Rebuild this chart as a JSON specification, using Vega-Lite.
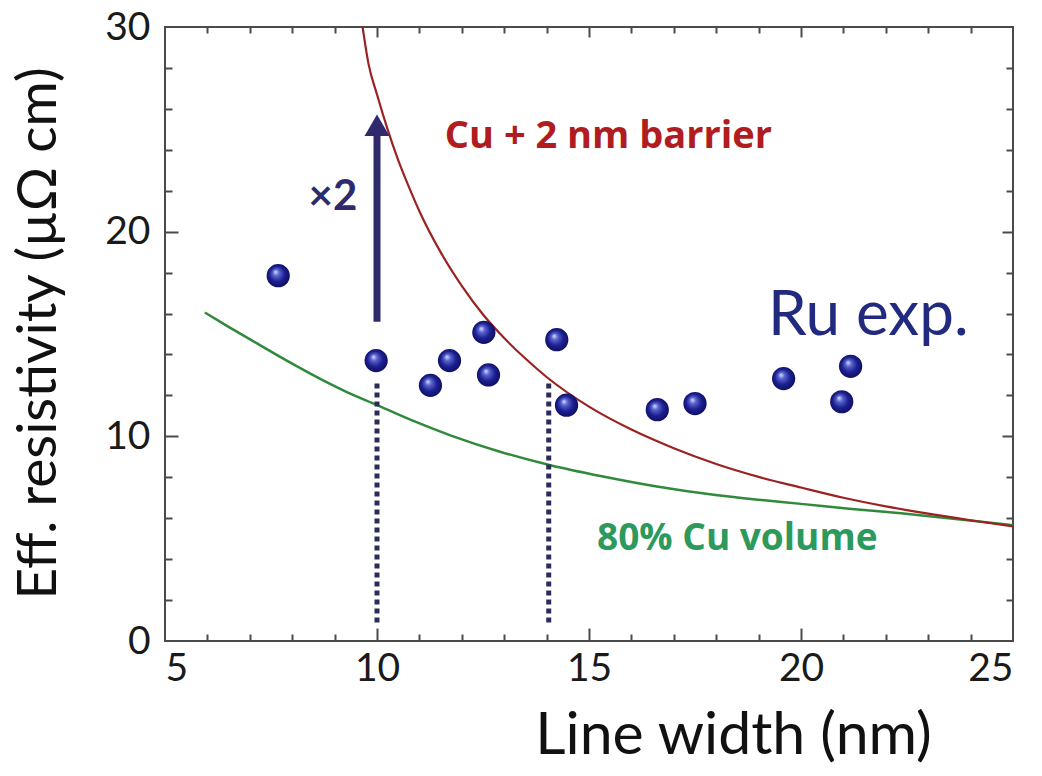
{
  "$schema": "https://vega.github.io/schema/vega-lite/v6.json",
  "width": 848,
  "height": 614,
  "autosize": {"type": "none"},
  "padding": {"left": 165, "top": 27, "right": 29, "bottom": 135},
  "background": "white",
  "config": {
    "view": {"stroke": "#4a4a4a", "strokeWidth": 2},
    "font": "Lato"
  },
  "datasets": {
    "pts": [
      {"w": 7.67, "rho": 17.85}, {"w": 9.98, "rho": 13.7}, {"w": 11.26, "rho": 12.49},
      {"w": 11.71, "rho": 13.7}, {"w": 12.52, "rho": 15.08}, {"w": 12.63, "rho": 13.0},
      {"w": 14.24, "rho": 14.72}, {"w": 14.47, "rho": 11.52}, {"w": 16.61, "rho": 11.3},
      {"w": 17.5, "rho": 11.6}, {"w": 19.59, "rho": 12.82}, {"w": 20.96, "rho": 11.69},
      {"w": 21.17, "rho": 13.42}
    ],
    "red": [
      {"w": 9.66, "rho": 30}, {"w": 9.8, "rho": 28.2}, {"w": 10.0, "rho": 26.7},
      {"w": 10.25, "rho": 25.0}, {"w": 10.5, "rho": 23.5}, {"w": 10.75, "rho": 22.2},
      {"w": 11.0, "rho": 21.0}, {"w": 11.5, "rho": 19.0}, {"w": 12.0, "rho": 17.35},
      {"w": 12.5, "rho": 15.95}, {"w": 13.0, "rho": 14.8}, {"w": 13.5, "rho": 13.8},
      {"w": 14.0, "rho": 12.9}, {"w": 15.0, "rho": 11.45}, {"w": 16.0, "rho": 10.33},
      {"w": 17.0, "rho": 9.42}, {"w": 18.0, "rho": 8.65}, {"w": 19.0, "rho": 8.02},
      {"w": 20.0, "rho": 7.5}, {"w": 21.0, "rho": 7.0}, {"w": 22.0, "rho": 6.58},
      {"w": 23.0, "rho": 6.22}, {"w": 24.0, "rho": 5.9}, {"w": 25.0, "rho": 5.6}
    ],
    "green": [
      {"w": 5.94, "rho": 16.05}, {"w": 6.5, "rho": 15.35}, {"w": 7.17, "rho": 14.54},
      {"w": 8.0, "rho": 13.55}, {"w": 8.73, "rho": 12.73}, {"w": 9.3, "rho": 12.15},
      {"w": 9.91, "rho": 11.61}, {"w": 10.8, "rho": 10.8}, {"w": 11.73, "rho": 10.05},
      {"w": 12.9, "rho": 9.25}, {"w": 14.09, "rho": 8.59}, {"w": 15.3, "rho": 8.05},
      {"w": 16.6, "rho": 7.55}, {"w": 18.03, "rho": 7.12}, {"w": 19.0, "rho": 6.9},
      {"w": 20.0, "rho": 6.7}, {"w": 21.2, "rho": 6.45}, {"w": 22.36, "rho": 6.24},
      {"w": 23.7, "rho": 5.95}, {"w": 25.0, "rho": 5.66}
    ],
    "dots": [
      {"w": 10.0, "lo": 0.9, "hi": 12.6},
      {"w": 14.05, "lo": 0.9, "hi": 12.6}
    ],
    "arrow": [{"w": 10.0, "lo": 15.6, "hi": 24.9, "tip": 25.2}]
  },
  "resolve": {"axis": {"x": "independent", "y": "independent"}},
  "layer": [
    {
      "data": {"name": "green"},
      "mark": {"type": "line", "color": "#2f8a3c", "strokeWidth": 2.5, "interpolate": "monotone"},
      "encoding": {
        "x": {"field": "w", "type": "quantitative", "scale": {"domain": [5, 25], "nice": false, "zero": false},
          "axis": {"orient": "bottom", "values": [5, 10, 15, 20, 25], "ticks": false, "domain": false, "grid": false,
            "labelFontSize": 39, "labelColor": "#1a1a1a", "labelPadding": 8, "labelFont": "Lato",
            "title": "Line width (nm)", "titleFontSize": 59, "titleFont": "Lato", "titleFontWeight": "normal",
            "titleColor": "#111111", "titleX": 568, "titleY": 112, "titleBaseline": "alphabetic", "titleAlign": "center"}},
        "y": {"field": "rho", "type": "quantitative", "scale": {"domain": [0, 30], "nice": false, "zero": false},
          "axis": {"orient": "left", "values": [0, 10, 20, 30], "ticks": false, "domain": false, "grid": false,
            "labelFontSize": 39, "labelColor": "#1a1a1a", "labelPadding": 15, "labelFont": "Lato",
            "title": "Eff. resistivity (µΩ cm)", "titleFontSize": 55, "titleFont": "Lato", "titleFontWeight": "normal",
            "titleColor": "#111111", "titleX": -127, "titleY": 306, "titleBaseline": "middle", "titleAlign": "center", "titleAngle": -90}}
      }
    },
    {
      "data": {"name": "red"},
      "mark": {"type": "line", "color": "#9c2222", "strokeWidth": 2.2, "interpolate": "monotone"},
      "encoding": {
        "x": {"field": "w", "type": "quantitative", "scale": {"domain": [5, 25], "nice": false, "zero": false},
          "axis": {"orient": "bottom", "values": [10, 15, 20], "labels": false, "domain": false, "grid": false, "title": null,
            "tickSize": -13, "tickColor": "#4a4a4a", "tickWidth": 2}},
        "y": {"field": "rho", "type": "quantitative", "scale": {"domain": [0, 30], "nice": false, "zero": false},
          "axis": {"orient": "left", "values": [10, 20], "labels": false, "domain": false, "grid": false, "title": null,
            "tickSize": -13, "tickColor": "#4a4a4a", "tickWidth": 2}}
      }
    },
    {
      "data": {"name": "dots"},
      "mark": {"type": "rule", "color": "#2c2c5c", "strokeWidth": 5, "strokeDash": [5, 4]},
      "encoding": {
        "x": {"field": "w", "type": "quantitative", "scale": {"domain": [5, 25], "nice": false, "zero": false},
          "axis": {"orient": "bottom", "values": [6, 7, 8, 9, 11, 12, 13, 14, 16, 17, 18, 19, 21, 22, 23, 24], "labels": false, "domain": false, "grid": false, "title": null,
            "tickSize": -7, "tickColor": "#4a4a4a", "tickWidth": 2}},
        "y": {"field": "lo", "type": "quantitative", "scale": {"domain": [0, 30], "nice": false, "zero": false},
          "axis": {"orient": "left", "values": [2, 4, 6, 8, 12, 14, 16, 18, 22, 24, 26, 28], "labels": false, "domain": false, "grid": false, "title": null,
            "tickSize": -7, "tickColor": "#4a4a4a", "tickWidth": 2}},
        "y2": {"field": "hi"}
      }
    },
    {
      "data": {"name": "arrow"},
      "mark": {"type": "rule", "color": "#2e2a6c", "strokeWidth": 7},
      "encoding": {
        "x": {"field": "w", "type": "quantitative", "scale": {"domain": [5, 25], "nice": false, "zero": false},
          "axis": {"orient": "top", "values": [10, 15, 20], "labels": false, "domain": false, "grid": false, "title": null,
            "tickSize": -10, "tickColor": "#4a4a4a", "tickWidth": 2}},
        "y": {"field": "lo", "type": "quantitative", "scale": {"domain": [0, 30], "nice": false, "zero": false},
          "axis": {"orient": "right", "values": [10, 20], "labels": false, "domain": false, "grid": false, "title": null,
            "tickSize": -11, "tickColor": "#4a4a4a", "tickWidth": 2}},
        "y2": {"field": "hi"}
      }
    },
    {
      "data": {"name": "arrow"},
      "mark": {"type": "point", "shape": "triangle-up", "filled": true, "color": "#2e2a6c", "size": 625, "opacity": 1},
      "encoding": {
        "x": {"field": "w", "type": "quantitative", "scale": {"domain": [5, 25], "nice": false, "zero": false},
          "axis": {"orient": "top", "values": [6, 7, 8, 9, 11, 12, 13, 14, 16, 17, 18, 19, 21, 22, 23, 24], "labels": false, "domain": false, "grid": false, "title": null,
            "tickSize": -6, "tickColor": "#4a4a4a", "tickWidth": 2}},
        "y": {"field": "tip", "type": "quantitative", "scale": {"domain": [0, 30], "nice": false, "zero": false},
          "axis": {"orient": "right", "values": [2, 4, 6, 8, 12, 14, 16, 18, 22, 24, 26, 28], "labels": false, "domain": false, "grid": false, "title": null,
            "tickSize": -7, "tickColor": "#4a4a4a", "tickWidth": 2}}
      }
    },
    {
      "data": {"name": "pts"},
      "mark": {"type": "point", "shape": "circle", "filled": true, "size": 540, "opacity": 1,
        "fill": {"gradient": "radial", "x1": 0.38, "y1": 0.33, "r1": 0, "x2": 0.5, "y2": 0.5, "r2": 0.55,
          "stops": [{"offset": 0, "color": "#dfe4ff"}, {"offset": 0.25, "color": "#5a64d0"}, {"offset": 0.6, "color": "#1c2090"}, {"offset": 1, "color": "#0c0c5c"}]}},
      "encoding": {
        "x": {"field": "w", "type": "quantitative", "scale": {"domain": [5, 25], "nice": false, "zero": false}, "axis": null},
        "y": {"field": "rho", "type": "quantitative", "scale": {"domain": [0, 30], "nice": false, "zero": false}, "axis": null}
      }
    },
    {
      "data": {"values": [{"w": 8.96, "rho": 21.05, "label": "×2"}]},
      "mark": {"type": "text", "font": "Lato", "fontWeight": "bold", "fontSize": 42, "color": "#2e2a6c", "align": "center", "baseline": "alphabetic"},
      "encoding": {
        "x": {"field": "w", "type": "quantitative", "scale": {"domain": [5, 25], "nice": false, "zero": false}, "axis": null},
        "y": {"field": "rho", "type": "quantitative", "scale": {"domain": [0, 30], "nice": false, "zero": false}, "axis": null},
        "text": {"field": "label"}
      }
    },
    {
      "data": {"values": [{"w": 11.6, "rho": 24.08, "label": "Cu + 2 nm barrier"}]},
      "mark": {"type": "text", "font": "Open Sans", "fontWeight": "bold", "fontSize": 38, "color": "#b01c20", "align": "left", "baseline": "alphabetic"},
      "encoding": {
        "x": {"field": "w", "type": "quantitative", "scale": {"domain": [5, 25], "nice": false, "zero": false}, "axis": null},
        "y": {"field": "rho", "type": "quantitative", "scale": {"domain": [0, 30], "nice": false, "zero": false}, "axis": null},
        "text": {"field": "label"}
      }
    },
    {
      "data": {"values": [{"w": 19.22, "rho": 14.95, "label": "Ru exp."}]},
      "mark": {"type": "text", "font": "Lato", "fontWeight": "normal", "fontSize": 62, "color": "#222a80", "align": "left", "baseline": "alphabetic"},
      "encoding": {
        "x": {"field": "w", "type": "quantitative", "scale": {"domain": [5, 25], "nice": false, "zero": false}, "axis": null},
        "y": {"field": "rho", "type": "quantitative", "scale": {"domain": [0, 30], "nice": false, "zero": false}, "axis": null},
        "text": {"field": "label"}
      }
    },
    {
      "data": {"values": [{"w": 15.19, "rho": 4.45, "label": "80% Cu volume"}]},
      "mark": {"type": "text", "font": "Open Sans", "fontWeight": "bold", "fontSize": 37, "color": "#2b9a5c", "align": "left", "baseline": "alphabetic"},
      "encoding": {
        "x": {"field": "w", "type": "quantitative", "scale": {"domain": [5, 25], "nice": false, "zero": false}, "axis": null},
        "y": {"field": "rho", "type": "quantitative", "scale": {"domain": [0, 30], "nice": false, "zero": false}, "axis": null},
        "text": {"field": "label"}
      }
    }
  ]
}
